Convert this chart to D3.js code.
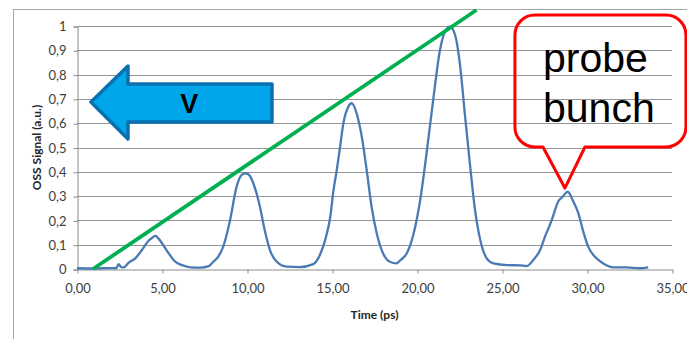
<!DOCTYPE html>
<html>
<head>
<meta charset="utf-8">
<script src="https://cdn.jsdelivr.net/npm/d3@7"></script>
<style>
  body { margin: 0; background: #fff; }
  text { font-family: Lato, "Open Sans", sans-serif; }
</style>
</head>
<body>
<div id="chart"></div>
<script>
// Time axis (ps) and OSS signal
const timePs = [
  0, 1.0, 2.0, 2.3, 2.45, 2.6, 2.75, 3.04, 3.43, 3.82, 4.22, 4.45, 4.61, 4.8,
  5.0, 5.39, 5.78, 6.18, 6.67, 7.25, 7.75, 8.02, 8.3, 8.6, 9.0, 9.39, 9.69,
  9.94, 10.15, 10.37, 10.76, 11.06, 11.35, 11.75, 12.33, 13.1, 13.9, 14.3,
  14.6, 14.9, 15.08, 15.28, 15.47, 15.67, 15.96, 16.16, 16.45, 16.75, 17.04,
  17.33, 17.63, 18.0, 18.4, 18.8, 19.0, 19.4, 19.78, 20.18, 20.57, 20.96,
  21.35, 21.65, 21.94, 22.24, 22.53, 22.82, 23.12, 23.4, 23.7, 24.1, 24.5,
  25.3, 26.06, 26.45, 26.84, 27.24, 27.53, 27.92, 28.3, 28.6, 28.86, 29.2,
  29.49, 29.78, 30.07, 30.47, 30.96, 31.55, 32.33, 33.1, 33.6
];
const signal = [
  0.003, 0.002, 0.004, 0.003, 0.02, 0.008, 0.007, 0.026, 0.044, 0.078, 0.117,
  0.13, 0.136, 0.125, 0.106, 0.065, 0.03, 0.016, 0.007, 0.006, 0.012, 0.03,
  0.05, 0.092, 0.2, 0.339, 0.387, 0.394, 0.385, 0.353, 0.256, 0.154, 0.078,
  0.03, 0.01, 0.008, 0.02, 0.06, 0.12, 0.215, 0.32, 0.407, 0.5, 0.6, 0.668,
  0.682, 0.64, 0.545, 0.407, 0.256, 0.147, 0.065, 0.03, 0.023, 0.035, 0.065,
  0.14, 0.28, 0.48, 0.7, 0.9, 0.977, 0.997, 0.963, 0.84, 0.634, 0.428, 0.25,
  0.126, 0.044, 0.023, 0.016, 0.015, 0.012, 0.037, 0.078, 0.133, 0.2, 0.277,
  0.3, 0.318, 0.277, 0.23, 0.154, 0.092, 0.05, 0.023, 0.007, 0.007, 0.003,
  0.007
];
const yTicks = [0, 0.1, 0.2, 0.3, 0.4, 0.5, 0.6, 0.7, 0.8, 0.9, 1];
const xTicks = [0, 5, 10, 15, 20, 25, 30, 35];

var data = timePs.map((t, i) => ({ t: t, v: signal[i] }));

var width = 687,
  height = 339,
  margin = { top: 26, right: 15, bottom: 70, left: 77 };

var svg = d3
  .select("#chart")
  .append("svg")
  .attr("width", width)
  .attr("height", height);

// outer chart frame
svg
  .append("rect")
  .attr("x", 13.5)
  .attr("y", 9.5)
  .attr("width", 700)
  .attr("height", 400)
  .attr("fill", "none")
  .attr("stroke", "#a6a6a6");

var x = d3.scaleLinear().domain([0, 35]).range([margin.left, width - margin.right]);
var y = d3.scaleLinear().domain([0, 1]).range([height - margin.bottom, margin.top]);

// horizontal gridlines
svg
  .append("g")
  .selectAll("line")
  .data(yTicks.slice(1))
  .enter()
  .append("line")
  .attr("x1", x(0))
  .attr("x2", x(35))
  .attr("y1", (d) => Math.round(y(d)) + 0.5)
  .attr("y2", (d) => Math.round(y(d)) + 0.5)
  .attr("stroke", "#959595");

// Y axis
var yAxis = svg
  .append("g")
  .attr("transform", "translate(" + (x(0) + 0.5) + ",0.5)")
  .call(d3.axisLeft(y).tickValues(yTicks).tickSize(4).tickPadding(7)
    .tickFormat((d) => (d === 0 || d === 1 ? d : d3.format(".1f")(d).replace(".", ","))));
yAxis.selectAll("path, line").attr("stroke", "#8c8c8c");
yAxis.selectAll("text").style("font-size", "13px").attr("fill", "#404040");

// X axis
var xAxis = svg
  .append("g")
  .attr("transform", "translate(0.5," + (y(0) + 0.5) + ")")
  .call(d3.axisBottom(x).tickValues(xTicks).tickSize(4).tickSizeOuter(0).tickPadding(10)
    .tickFormat((d) => d3.format(".2f")(d).replace(".", ",")));
xAxis.selectAll("path, line").attr("stroke", "#8c8c8c");
xAxis.selectAll("text").style("font-size", "13px").attr("fill", "#404040");

// axis titles
svg
  .append("text")
  .attr("x", (x(0) + x(35)) / 2)
  .attr("y", 319)
  .attr("text-anchor", "middle")
  .style("font-size", "12px")
  .style("font-weight", "bold")
  .attr("fill", "#262626")
  .text("Time (ps)");

svg
  .append("text")
  .attr("transform", "translate(41," + (y(0) + y(1)) / 2 + ") rotate(-90)")
  .attr("text-anchor", "middle")
  .style("font-size", "12px")
  .style("font-weight", "bold")
  .attr("fill", "#262626")
  .text("OSS Signal (a.u.)");

// signal trace
svg
  .append("path")
  .datum(data)
  .attr("fill", "none")
  .attr("stroke", "#4a7ab5")
  .attr("stroke-width", 2.3)
  .attr("stroke-linejoin", "round")
  .attr("d", d3.line().curve(d3.curveMonotoneX).x((d) => x(d.t)).y((d) => y(d.v)));

// green envelope line
svg
  .append("line")
  .attr("x1", x(0.94))
  .attr("y1", y(0))
  .attr("x2", x(23.5))
  .attr("y2", y(1.066))
  .attr("stroke", "#00b050")
  .attr("stroke-width", 3.8);

// velocity arrow
var arrow = [
  [0.82, 0.687], [3.0, 0.835], [3.0, 0.761], [11.47, 0.761],
  [11.47, 0.605], [3.0, 0.605], [3.0, 0.535]
];
svg
  .append("polygon")
  .attr("points", arrow.map((p) => x(p[0]) + "," + y(p[1])).join(" "))
  .attr("fill", "#00a6ea")
  .attr("stroke", "#0b70b0")
  .attr("stroke-width", 3.5)
  .attr("stroke-linejoin", "round");

svg
  .append("text")
  .attr("x", x(6.6))
  .attr("y", y(0.643))
  .attr("text-anchor", "middle")
  .style("font-family", "'Liberation Sans', Arial, sans-serif")
  .style("font-size", "27px")
  .style("font-weight", "bold")
  .attr("fill", "#000")
  .text("V");

// callout for the probe bunch
var cx0 = x(25.76), cx1 = x(35.82), cy0 = y(1.045), cy1 = y(0.502), r = 20;
var pb1 = x(27.41), pb2 = x(29.88), tipX = x(28.7), tipY = y(0.333);
var callout = d3.path();
callout.moveTo(cx0 + r, cy0);
callout.lineTo(cx1 - r, cy0);
callout.arcTo(cx1, cy0, cx1, cy0 + r, r);
callout.lineTo(cx1, cy1 - r);
callout.arcTo(cx1, cy1, cx1 - r, cy1, r);
callout.lineTo(pb2, cy1);
callout.lineTo(tipX, tipY);
callout.lineTo(pb1, cy1);
callout.lineTo(cx0 + r, cy1);
callout.arcTo(cx0, cy1, cx0, cy1 - r, r);
callout.lineTo(cx0, cy0 + r);
callout.arcTo(cx0, cy0, cx0 + r, cy0, r);
callout.closePath();

svg
  .append("path")
  .attr("d", callout.toString())
  .attr("fill", "none")
  .attr("stroke", "#ff0000")
  .attr("stroke-width", 3)
  .attr("stroke-linejoin", "round");

svg
  .selectAll(".callout-text")
  .data([["probe", 0.811], ["bunch", 0.605]])
  .enter()
  .append("text")
  .attr("class", "callout-text")
  .attr("x", x(27.41))
  .attr("y", (d) => y(d[1]))
  .style("font-family", "'Liberation Sans', Arial, sans-serif")
  .style("font-size", "41px")
  .attr("fill", "#000")
  .text((d) => d[0]);
</script>
</body>
</html>
